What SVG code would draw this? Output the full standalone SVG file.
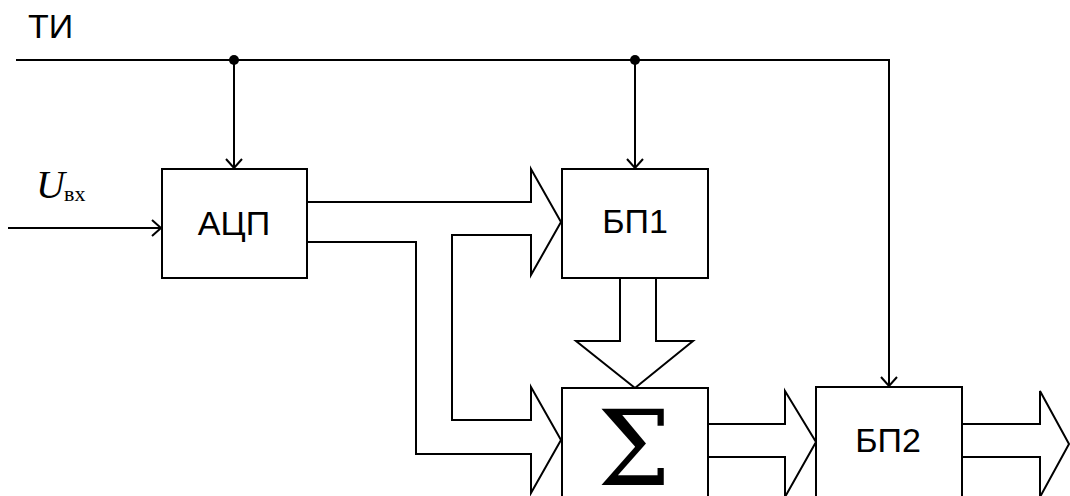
<svg xmlns="http://www.w3.org/2000/svg" width="1070" height="496" viewBox="0 0 1070 496">
<style>
.box{fill:#fff;stroke:#000;stroke-width:2}
.ln{fill:none;stroke:#000;stroke-width:2;stroke-linejoin:miter}
.lbl{font-family:"Liberation Sans",Arial,sans-serif;font-size:34px;fill:#000;text-anchor:middle}
.ser{font-family:"Liberation Serif","Times New Roman",serif;fill:#000}
</style>
<defs>
<marker id="ah" markerUnits="userSpaceOnUse" markerWidth="20" markerHeight="20" refX="10" refY="10" orient="auto" viewBox="0 0 20 20">
<path d="M1,2 L10,10 L1,18" fill="none" stroke="#000" stroke-width="2"/>
</marker>
</defs>
<rect width="1070" height="496" fill="#fff"/>
<g id="connectors">
<path class="ln" d="M16,60 H889 V386" marker-end="url(#ah)"/>
<path class="ln" d="M234,60 V168" marker-end="url(#ah)"/>
<path class="ln" d="M635,60 V168" marker-end="url(#ah)"/>
<circle cx="234" cy="60" r="5" fill="#000"/>
<circle cx="635" cy="60" r="5" fill="#000"/>
<path class="ln" d="M8,228 H161" marker-end="url(#ah)"/>
<path class="ln" d="M307,202 H531 V169 L561,222 L531,275 V235 H452 V420 H531 V387 L561,440 L531,493 V454 H416 V242 H307"/>
<path class="ln" d="M620,278 V341 H576 L635,388 L693,341 H656 V278"/>
<path class="ln" d="M708,424 H785 V391 L816,442 L785,497 V457 H708"/>
<path class="ln" d="M962,424 H1040 V391 L1069,444 L1040,497 V457 H962"/>
</g>
<g id="label-ti"><text x="28" y="38" font-family="Liberation Sans,Arial,sans-serif" font-size="34" fill="#000">ТИ</text></g>
<g id="label-uvx"><text class="ser" x="36" y="198" font-size="40" font-style="italic">U</text><text class="ser" x="64" y="201" font-size="22">вх</text></g>
<g id="adc"><rect class="box" x="162" y="169" width="145" height="109"/><text class="lbl" x="234" y="235">АЦП</text></g>
<g id="bp1"><rect class="box" x="562" y="169" width="146" height="109"/><text class="lbl" x="635" y="233">БП1</text></g>
<g id="sum"><rect class="box" x="562" y="388" width="146" height="120"/><text x="634" y="485" font-family="DejaVu Serif,serif" font-size="104" text-anchor="middle" fill="#000">Σ</text></g>
<g id="bp2"><rect class="box" x="816" y="387" width="146" height="120"/><text class="lbl" x="888" y="452">БП2</text></g>
</svg>
